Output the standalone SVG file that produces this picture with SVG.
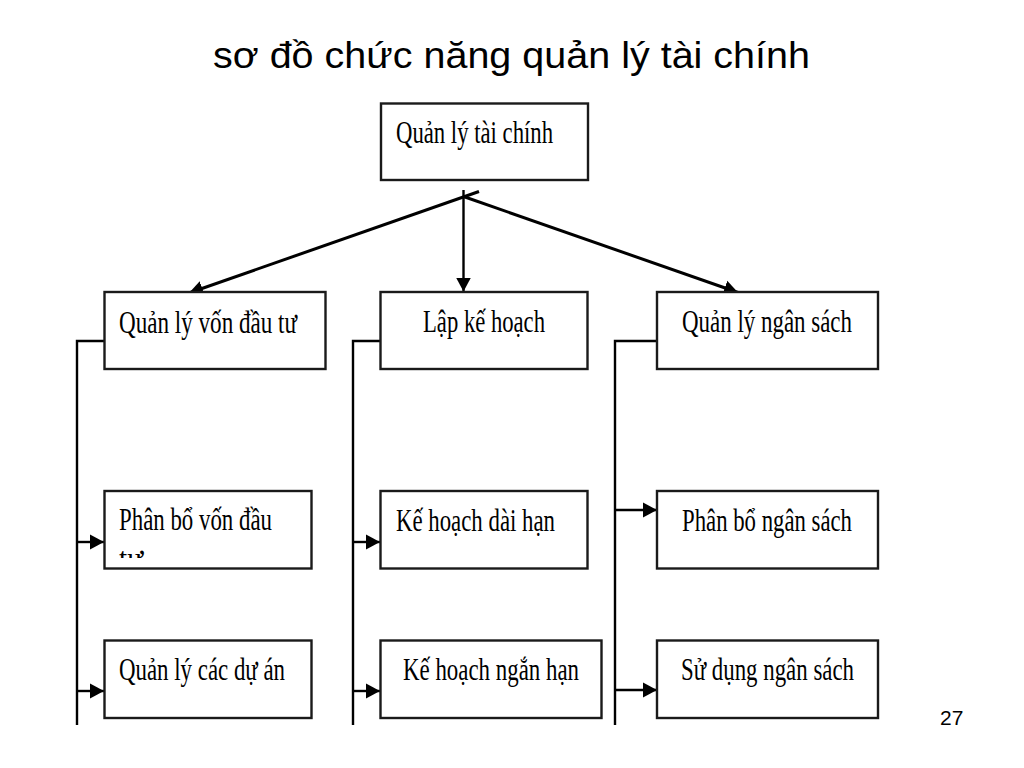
<svg xmlns="http://www.w3.org/2000/svg" width="1024" height="768" viewBox="0 0 1024 768">
<style>
.box{fill:#fff;stroke:#1a1a1a;stroke-width:2.4}
.lbl{font-family:"Liberation Serif","Times New Roman",serif;font-size:32px;fill:#000}
.ttl{font-family:"Liberation Sans",Arial,sans-serif;font-size:37px;fill:#000}
.num{font-family:"Liberation Sans",Arial,sans-serif;font-size:21px;fill:#000}
.ln{stroke:#000;fill:none}
.main{stroke-width:3}
.side{stroke-width:2.4}
</style>
<defs>
<marker id="ah" viewBox="0 0 14 16" refX="14" refY="8" markerWidth="14" markerHeight="16" markerUnits="userSpaceOnUse" orient="auto">
<path d="M0,0.5 L14,8 L0,15.5 z" fill="#000"/>
</marker>
<clipPath id="clipPB"><rect x="105" y="491" width="206" height="67"/></clipPath>
</defs>
<rect width="1024" height="768" fill="#fff"/>
<text class="ttl" x="213" y="68" textLength="597" lengthAdjust="spacingAndGlyphs">sơ đồ chức năng quản lý tài chính</text>
<text class="num" x="940" y="725">27</text>

<g id="connectors">
<line class="ln main" x1="479" y1="191.5" x2="189" y2="293" marker-end="url(#ah)"/>
<line class="ln main" x1="463.5" y1="196.5" x2="738" y2="292.5" marker-end="url(#ah)"/>
<line class="ln side" x1="463.5" y1="190" x2="463.5" y2="291.5" marker-end="url(#ah)"/>
<polyline class="ln side" points="105,341 77,341 77,725"/>
<line class="ln side" x1="77" y1="542" x2="104" y2="542" marker-end="url(#ah)"/>
<line class="ln side" x1="77" y1="691" x2="104" y2="691" marker-end="url(#ah)"/>
<polyline class="ln side" points="380,341 353,341 353,725"/>
<line class="ln side" x1="353" y1="542" x2="380" y2="542" marker-end="url(#ah)"/>
<line class="ln side" x1="353" y1="691" x2="380" y2="691" marker-end="url(#ah)"/>
<polyline class="ln side" points="657,341 615,341 615,725"/>
<line class="ln side" x1="615" y1="510" x2="657" y2="510" marker-end="url(#ah)"/>
<line class="ln side" x1="615" y1="690" x2="657" y2="690" marker-end="url(#ah)"/>
</g>

<g id="n-root">
<rect class="box" x="381" y="103.5" width="207" height="76.5"/>
<text class="lbl" x="396" y="143" textLength="157" lengthAdjust="spacingAndGlyphs">Quản lý tài chính</text>
</g>
<g id="n-von">
<rect class="box" x="104.5" y="292" width="221" height="77"/>
<text class="lbl" x="119" y="333" textLength="178" lengthAdjust="spacingAndGlyphs">Quản lý vốn đầu tư</text>
</g>
<g id="n-kehoach">
<rect class="box" x="380.5" y="292" width="207" height="77"/>
<text class="lbl" x="423" y="332" textLength="122" lengthAdjust="spacingAndGlyphs">Lập kế hoạch</text>
</g>
<g id="n-ngansach">
<rect class="box" x="657" y="292" width="221" height="77"/>
<text class="lbl" x="682" y="332" textLength="170" lengthAdjust="spacingAndGlyphs">Quản lý ngân sách</text>
</g>
<g id="n-phanbovon">
<rect class="box" x="104.5" y="491" width="207" height="77.5"/>
<g clip-path="url(#clipPB)">
<text class="lbl" x="119" y="530" textLength="153" lengthAdjust="spacingAndGlyphs">Phân bổ vốn đầu</text>
<text class="lbl" x="119" y="569" textLength="24" lengthAdjust="spacingAndGlyphs">tư</text>
</g>
</g>
<g id="n-duan">
<rect class="box" x="104.5" y="640.5" width="207" height="77.5"/>
<text class="lbl" x="119" y="680" textLength="166" lengthAdjust="spacingAndGlyphs">Quản lý các dự án</text>
</g>
<g id="n-daihan">
<rect class="box" x="380.5" y="491" width="207" height="77.5"/>
<text class="lbl" x="396" y="530.5" textLength="159" lengthAdjust="spacingAndGlyphs">Kế hoạch dài hạn</text>
</g>
<g id="n-nganhan">
<rect class="box" x="380.5" y="640.5" width="221" height="77.5"/>
<text class="lbl" x="403" y="680" textLength="176" lengthAdjust="spacingAndGlyphs">Kế hoạch ngắn hạn</text>
</g>
<g id="n-phanbons">
<rect class="box" x="657" y="491" width="221" height="77.5"/>
<text class="lbl" x="682" y="530.5" textLength="170" lengthAdjust="spacingAndGlyphs">Phân bổ ngân sách</text>
</g>
<g id="n-sudung">
<rect class="box" x="657" y="640.5" width="221" height="77.5"/>
<text class="lbl" x="681" y="680" textLength="173" lengthAdjust="spacingAndGlyphs">Sử dụng ngân sách</text>
</g>
</svg>
